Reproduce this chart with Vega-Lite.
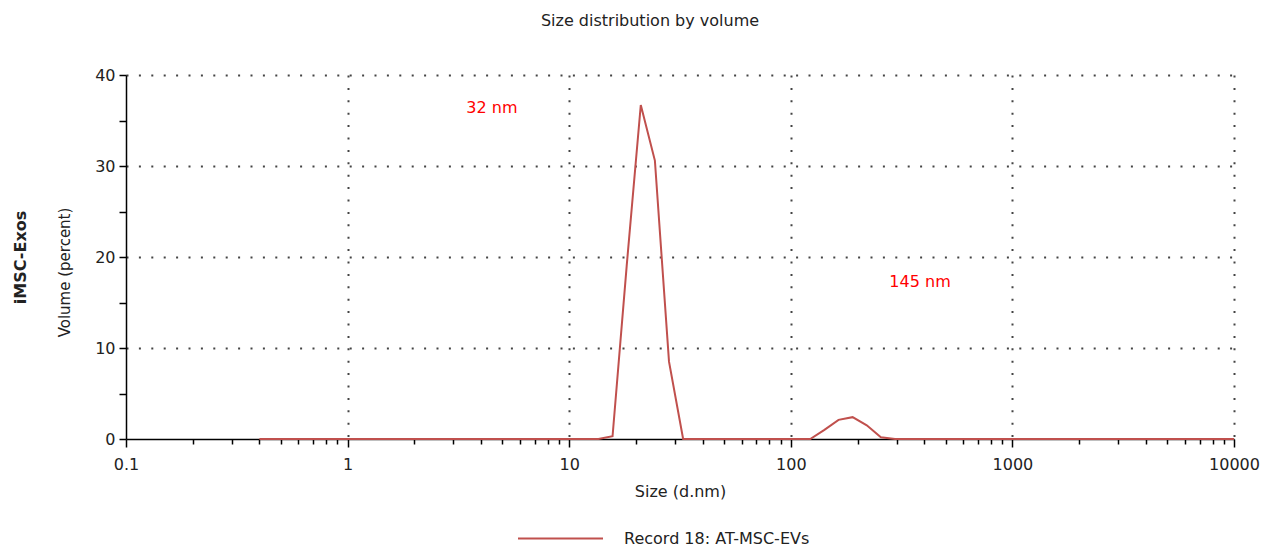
{
  "$schema": "https://vega.github.io/schema/vega-lite/v6.json",
  "width": 1108,
  "height": 364,
  "autosize": {"type": "none"},
  "padding": {"left": 126, "top": 75, "right": 28, "bottom": 107},
  "background": "white",
  "title": {"text": "Size distribution by volume", "fontSize": 16, "fontWeight": "normal", "font": "DejaVu Sans", "color": "#222222", "offset": 38, "dx": -30},
  "config": {
    "view": {"stroke": null},
    "font": "DejaVu Sans",
    "axis": {"labelFont": "DejaVu Sans", "titleFont": "DejaVu Sans"},
    "legend": {"labelFont": "DejaVu Sans"}
  },
  "layer": [
    {
      "data": {"values": [
        {"size": 0.4, "volume": 0}, {"size": 0.4632, "volume": 0}, {"size": 0.5365, "volume": 0}, {"size": 0.6213, "volume": 0},
        {"size": 0.7195, "volume": 0}, {"size": 0.8332, "volume": 0}, {"size": 0.9649, "volume": 0}, {"size": 1.117, "volume": 0},
        {"size": 1.294, "volume": 0}, {"size": 1.499, "volume": 0}, {"size": 1.736, "volume": 0}, {"size": 2.01, "volume": 0},
        {"size": 2.328, "volume": 0}, {"size": 2.696, "volume": 0}, {"size": 3.122, "volume": 0}, {"size": 3.615, "volume": 0},
        {"size": 4.187, "volume": 0}, {"size": 4.849, "volume": 0}, {"size": 5.615, "volume": 0}, {"size": 6.503, "volume": 0},
        {"size": 7.531, "volume": 0}, {"size": 8.721, "volume": 0}, {"size": 10.1, "volume": 0}, {"size": 11.7, "volume": 0},
        {"size": 13.54, "volume": 0}, {"size": 15.69, "volume": 0.3}, {"size": 18.17, "volume": 19.0}, {"size": 21.04, "volume": 36.7},
        {"size": 24.36, "volume": 30.6}, {"size": 28.21, "volume": 8.5}, {"size": 32.67, "volume": 0}, {"size": 37.84, "volume": 0},
        {"size": 43.82, "volume": 0}, {"size": 50.75, "volume": 0}, {"size": 58.77, "volume": 0}, {"size": 68.06, "volume": 0},
        {"size": 78.82, "volume": 0}, {"size": 91.28, "volume": 0}, {"size": 105.7, "volume": 0}, {"size": 122.4, "volume": 0},
        {"size": 141.8, "volume": 1.0}, {"size": 164.2, "volume": 2.1}, {"size": 190.1, "volume": 2.4}, {"size": 220.2, "volume": 1.5},
        {"size": 255.0, "volume": 0.2}, {"size": 295.3, "volume": 0}, {"size": 342.0, "volume": 0}, {"size": 396.1, "volume": 0},
        {"size": 458.7, "volume": 0}, {"size": 531.2, "volume": 0}, {"size": 615.1, "volume": 0}, {"size": 712.4, "volume": 0},
        {"size": 825.0, "volume": 0}, {"size": 955.4, "volume": 0}, {"size": 1106, "volume": 0}, {"size": 1281, "volume": 0},
        {"size": 1484, "volume": 0}, {"size": 1718, "volume": 0}, {"size": 1990, "volume": 0}, {"size": 2305, "volume": 0},
        {"size": 2669, "volume": 0}, {"size": 3091, "volume": 0}, {"size": 3580, "volume": 0}, {"size": 4145, "volume": 0},
        {"size": 4801, "volume": 0}, {"size": 5560, "volume": 0}, {"size": 6439, "volume": 0}, {"size": 7456, "volume": 0},
        {"size": 8635, "volume": 0}, {"size": 10000, "volume": 0}
      ]},
      "mark": {"type": "line", "strokeWidth": 2},
      "encoding": {
        "x": {
          "field": "size", "type": "quantitative",
          "scale": {"type": "log", "domain": [0.1, 10000], "nice": false},
          "axis": {
            "title": "Size (d.nm)",
            "values": [0.1, 0.2, 0.3, 0.4, 0.5, 0.6, 0.7, 0.8, 0.9, 1, 2, 3, 4, 5, 6, 7, 8, 9, 10, 20, 30, 40, 50, 60, 70, 80, 90, 100, 200, 300, 400, 500, 600, 700, 800, 900, 1000, 2000, 3000, 4000, 5000, 6000, 7000, 8000, 9000, 10000],
            "format": "~g",
            "labelExpr": "indexof([0.1, 1, 10, 100, 1000, 10000], datum.value) >= 0 ? datum.label : ''",
            "labelOverlap": false,
            "labelBound": false,
            "labelFlush": false,
            "labelFontSize": 16,
            "labelColor": "#222222",
            "labelPadding": 9,
            "grid": true,
            "gridOpacity": {"condition": {"test": "indexof([1, 10, 100, 1000, 10000], datum.value) >= 0", "value": 1}, "value": 0},
            "gridDash": [2, 10.4],
            "gridColor": "#444444",
            "gridWidth": 2,
            "tickSize": {"condition": {"test": "indexof([0.1, 1, 10, 100, 1000, 10000], datum.value) >= 0", "value": 8}, "value": 5},
            "tickColor": "#000000",
            "tickWidth": 1.5,
            "domainColor": "#000000",
            "domainWidth": 1.5,
            "titleFontSize": 16,
            "titleFontWeight": "normal",
            "titleColor": "#222222",
            "titlePadding": 11,
            "zindex": 0
          }
        },
        "y": {
          "field": "volume", "type": "quantitative",
          "scale": {"domain": [0, 40], "nice": false},
          "axis": {
            "title": "Volume (percent)",
            "values": [0, 5, 10, 15, 20, 25, 30, 35, 40],
            "labelExpr": "datum.value % 10 == 0 ? datum.label : ''",
            "labelFontSize": 16,
            "labelColor": "#222222",
            "labelPadding": 4,
            "grid": true,
            "gridOpacity": {"condition": {"test": "datum.value > 0 && datum.value % 10 == 0", "value": 1}, "value": 0},
            "gridDash": [2, 10.4],
            "gridColor": "#444444",
            "gridWidth": 2,
            "tickSize": 7,
            "tickColor": "#000000",
            "tickWidth": 1.5,
            "domainColor": "#000000",
            "domainWidth": 1.5,
            "titleFontSize": 15,
            "titleFontWeight": "normal",
            "titleColor": "#222222",
            "titlePadding": 22,
            "titleY": 197,
            "zindex": 0
          }
        },
        "color": {
          "datum": "Record 18: AT-MSC-EVs", "type": "nominal",
          "scale": {"range": ["#c0504d"]},
          "legend": {
            "title": null,
            "orient": "none",
            "legendX": 391,
            "legendY": 420,
            "symbolType": "stroke",
            "symbolSize": 7225,
            "symbolStrokeWidth": 2,
            "labelFontSize": 16,
            "labelColor": "#222222",
            "labelOffset": 20,
            "labelLimit": 400
          }
        }
      }
    },
    {
      "data": {"values": [
        {"size": 4.48, "volume": 36.4, "label": "32 nm"},
        {"size": 383, "volume": 17.3, "label": "145 nm"}
      ]},
      "mark": {"type": "text", "color": "#ff0000", "fontSize": 16, "font": "DejaVu Sans", "align": "center", "baseline": "middle"},
      "encoding": {
        "x": {"field": "size", "type": "quantitative"},
        "y": {
          "field": "volume", "type": "quantitative",
          "scale": {"domain": [0, 40], "nice": false},
          "axis": {
            "orient": "left",
            "title": "iMSC-Exos",
            "titleFontWeight": "bold",
            "titleFontSize": 16,
            "titleColor": "#222222",
            "labels": false,
            "ticks": false,
            "domain": false,
            "grid": false,
            "titlePadding": 98
          }
        },
        "text": {"field": "label"}
      }
    }
  ],
  "resolve": {"scale": {"y": "independent"}}
}
